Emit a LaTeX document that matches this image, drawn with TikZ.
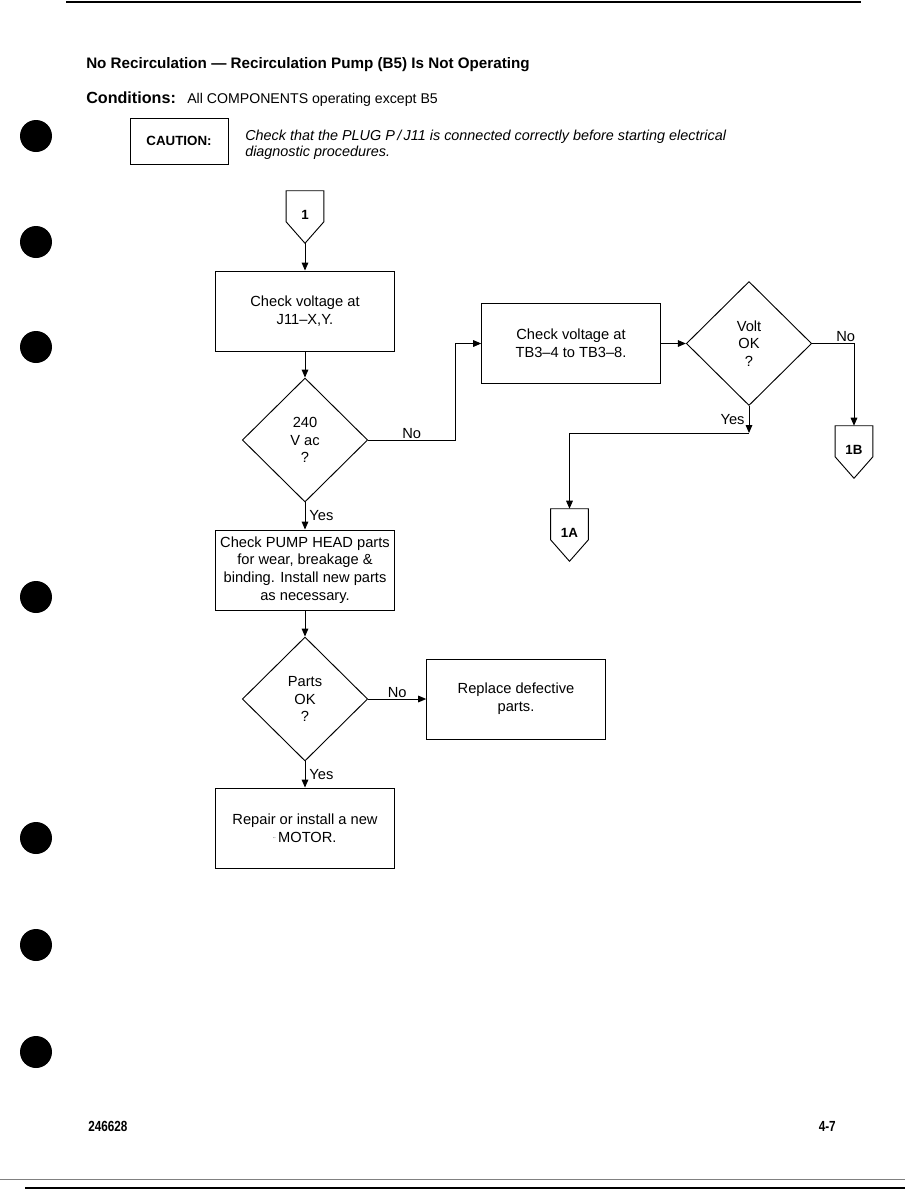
\documentclass[tikz,border=0pt]{standalone}
\usepackage{fontspec}
\setmainfont{Liberation Sans}
\usetikzlibrary{arrows.meta,shapes.geometric,calc}

\begin{document}
\begin{tikzpicture}[x=0.75pt,y=-0.75pt,
  box/.style={draw,line width=0.7pt,minimum width=134pt,minimum height=60pt,inner sep=2pt,align=center,font=\fontsize{11}{13.3}\selectfont},
  ask/.style={draw,diamond,line width=0.7pt,minimum width=94pt,minimum height=93pt,inner sep=0pt,align=center,font=\fontsize{11}{13.3}\selectfont},
  offp/.style={minimum width=28pt,minimum height=39pt,inner sep=0pt,font=\bfseries\fontsize{10}{12}\selectfont},
  flow/.style={line width=0.7pt,-{Triangle[length=6pt,width=5pt]}},
  lbl/.style={font=\fontsize{11}{13}\selectfont,inner sep=3pt}]
\useasboundingbox (0,0) rectangle (905,1190);

%page rules and binder holes
\draw[line width=1.5pt] (66,2) -- (861,2);
\draw[gray,line width=0.6pt] (0,1179) -- (905,1179);
\draw[line width=2.2pt] (25,1188) -- (905,1188);
\foreach \y in {136,242,347,597,838,945,1052}
  \fill (36,\y) circle (16);

%heading
\node[anchor=base west,inner sep=0,font=\bfseries\fontsize{11.4}{13}\selectfont] (title) at (86,68) {No Recirculation --- Recirculation Pump (B5) Is Not Operating};
\node[anchor=base west,inner sep=0,font=\bfseries\fontsize{12.1}{14}\selectfont] (cond) at (86,103) {Conditions:};
\node[anchor=base west,inner sep=0,font=\fontsize{10.6}{13}\selectfont] (condtxt) at (187,103) {All COMPONENTS operating except B5};
\node[draw,line width=0.7pt,minimum width=73.5pt,minimum height=34.5pt,font=\bfseries\fontsize{10}{12}\selectfont] (caution) at (179,141) {CAUTION:};
\node[anchor=base west,inner sep=0,font=\itshape\fontsize{10.8}{12}\selectfont] (cauttxt) at (245,140) {Check that the PLUG P\,/\,J11 is connected correctly before starting electrical};
\node[anchor=base west,inner sep=0,font=\itshape\fontsize{10.8}{12}\selectfont] (cauttxtb) at (245,156) {diagnostic procedures.};

%flow
\node[offp] (c1) at (305,217) {\raisebox{2.5pt}{1}};
\node[box] (chk1) at (305,311) {Check voltage at\\J11--X,Y.};
\node[ask] (v240) at (305,440) {240\\V ac\\?};
\node[box] (chk2) at (571,343.5) {Check voltage at\\TB3--4 to TB3--8.};
\node[ask] (voltok) at (749,343.5) {Volt\\OK\\?};
\node[offp] (c1b) at (854,452) {\raisebox{2.5pt}{1B}};
\node[offp] (c1a) at (569.5,535) {\raisebox{2.5pt}{1A}};
\node[box] (pump) at (305,570) {Check PUMP HEAD parts\\for wear, breakage \&\\binding. Install new parts\\as necessary.};
\node[ask] (partsok) at (305,699) {Parts\\OK\\?};
\node[box] (repl) at (516,699) {Replace defective\\parts.};
\node[box] (motor) at (305,828) {Repair or install a new\\{\tiny ¨}\,MOTOR.};

\foreach \c in {c1,c1a,c1b}
  \draw[line width=0.7pt] (\c.north west) -- (\c.north east) -- ([yshift=-23.25pt]\c.north east)
    -- (\c.south) -- ([yshift=-23.25pt]\c.north west) -- cycle;

\coordinate (yesj) at (749,433);

\draw[flow] (c1.south) -- (chk1);
\draw[flow] (chk1) -- (v240);
\draw[flow] (v240.east) -| node[lbl,above,pos=0.25,inner sep=1pt]{No} ($(chk2.west)+(-26,0)$) -- (chk2.west);
\draw[flow] (chk2) -- (voltok);
\draw[flow] (voltok.east) -| node[lbl,above,pos=0.4,inner sep=1pt]{No} (c1b.north);
\draw[flow] (voltok.south) -- node[lbl,left]{Yes} (yesj);
\draw[flow] (yesj) -| (c1a.north);
\draw[flow] (v240) -- node[lbl,right]{Yes} (pump);
\draw[flow] (pump) -- (partsok);
\draw[flow] (partsok) -- node[lbl,above,inner sep=1pt]{No} (repl);
\draw[flow] (partsok) -- node[lbl,right]{Yes} (motor);

%footer
\node[anchor=base west,inner sep=0,font=\bfseries\fontsize{11}{12}\selectfont] (docno) at (88,1131) {\scalebox{0.8}[1]{246628}};
\node[anchor=base east,inner sep=0,font=\bfseries\fontsize{11}{12}\selectfont] (pageno) at (836,1131) {\scalebox{0.8}[1]{4-7}};
\end{tikzpicture}
\end{document}
